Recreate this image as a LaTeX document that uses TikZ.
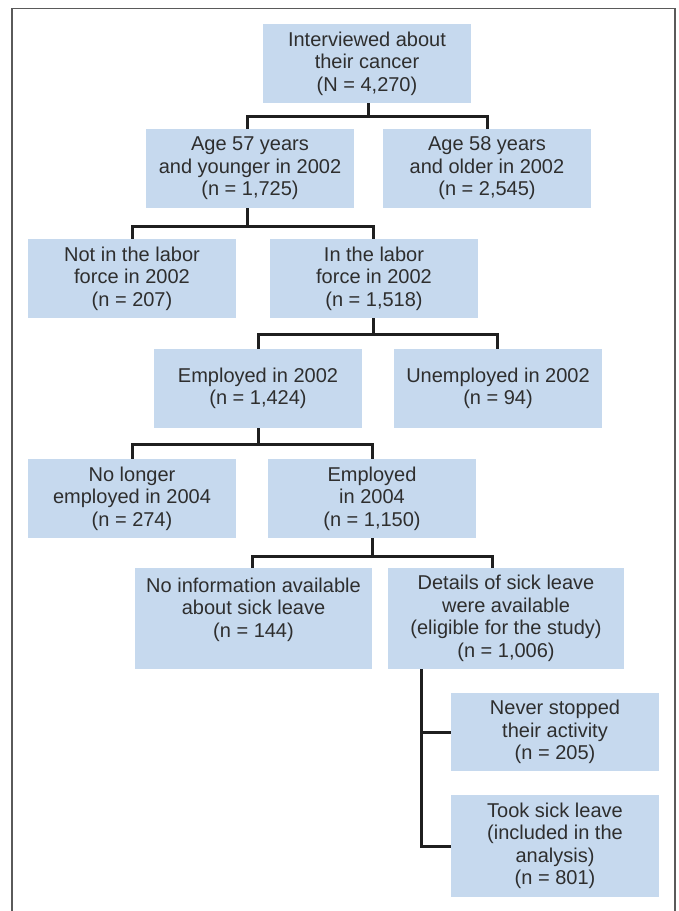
\documentclass[tikz,border=0pt]{standalone}
\usepackage{fontspec}
\setmainfont{Liberation Sans}
\usepackage{xcolor}
\usepackage{tikz}
\usetikzlibrary{positioning,calc}
\definecolor{boxblue}{HTML}{C6D9EE}
\definecolor{inkgray}{HTML}{2E2E2E}
\definecolor{framegray}{HTML}{5A5A5A}

\begin{document}
\begin{tikzpicture}[x=1pt,y=-1pt,
  stage/.style={fill=boxblue,text=inkgray,align=center,inner sep=0pt,
    minimum width=208pt,minimum height=79pt,font=\fontsize{20}{22.5}\selectfont},
  link/.style={draw=black!88,line width=3pt}]
  \useasboundingbox (0,0) rectangle (679,911);
  \draw[framegray,line width=1.8pt] (12,912) -- (12,8.5) -- (675,8.5) -- (675,912);
  % boxes
  \node[stage] (top) at (367,63.5) {Interviewed about\\their cancer\\(N = 4,270)};
  \node[stage] (young) at (250,168.5) {Age 57 years\\and younger in 2002\\(n = 1,725)};
  \node[stage] (old) at (487,168.5) {Age 58 years\\and older in 2002\\(n = 2,545)};
  \node[stage] (outlab) at (132,278.5) {Not in the labor\\force in 2002\\(n = 207)};
  \node[stage] (inlab) at (374,278.5) {In the labor\\force in 2002\\(n = 1,518)};
  \node[stage] (emp02) at (258,388.5) {Employed in 2002\\(n = 1,424)};
  \node[stage] (unemp02) at (498,388.5) {Unemployed in 2002\\(n = 94)};
  \node[stage] (left04) at (132,498.5) {No longer\\employed in 2004\\(n = 274)};
  \node[stage] (emp04) at (372,498.5) {Employed\\in 2004\\(n = 1,150)};
  \node[stage,minimum width=237pt,minimum height=101pt] (noinfo) at (253.5,618.5) {No information available\\about sick leave\\(n = 144)\\\mbox{}};
  \node[stage,minimum width=236pt,minimum height=101pt] (details) at (506,618.5) {Details of sick leave\\were available\\(eligible for the study)\\(n = 1,006)};
  \node[stage,minimum height=78pt] (never) at (555,732) {Never stopped\\their activity\\(n = 205)};
  \node[stage,minimum height=102pt] (sick) at (555,846) {Took sick leave\\(included in the\\analysis)\\(n = 801)};
  % connectors
  \draw[link] ([xshift=1]top.south) -- ++(0,13) coordinate (j1);
  \draw[link] ([xshift=-3]young.north) |- (j1) -| (old.north);
  \draw[link] ([xshift=-3]young.south) -- ++(0,18) coordinate (j2);
  \draw[link] (outlab.north) |- (j2) -| ([xshift=-1]inlab.north);
  \draw[link] ([xshift=-1]inlab.south) -- ++(0,16) coordinate (j3);
  \draw[link] (emp02.north) |- (j3) -| ([xshift=-1]unemp02.north);
  \draw[link] (emp02.south) -- ++(0,16) coordinate (j4);
  \draw[link] (left04.north) |- (j4) -| (emp04.north);
  \draw[link] (emp04.south) -- ++(0,18) coordinate (j5);
  \draw[link] ([xshift=-1.5]noinfo.north) |- (j5) -| ([xshift=-14]details.north);
  \draw[link] ([xshift=-85]details.south) |- (never.west);
  \draw[link] ([xshift=-85]details.south) |- (sick.west);
\end{tikzpicture}
\end{document}
